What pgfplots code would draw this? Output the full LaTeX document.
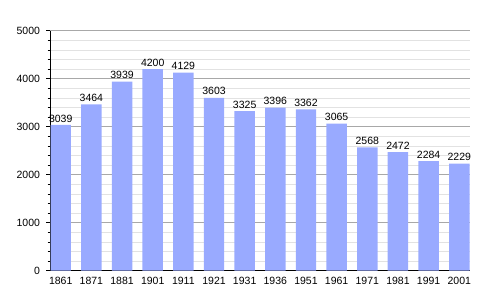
\documentclass[border=0pt]{standalone}
\usepackage{pgfplots}
\pgfplotsset{compat=1.18}
\usepackage{fontspec}
\setmainfont{Liberation Sans}
\definecolor{barblue}{HTML}{99AAFF}
\definecolor{majgrid}{HTML}{A8A8A8}
\definecolor{mingrid}{HTML}{E2E2E2}
\begin{document}
\begin{tikzpicture}
\begin{axis}[
  name=ax,
  at={(0pt,0pt)}, anchor=south west,
  scale only axis,
  width=420pt, height=240pt,
  xmin=-0.35, xmax=13.35,
  ymin=0, ymax=5000,
  axis lines*=left,
  axis line style={black, line width=0.8pt},
  xtick=data,
  xticklabels={1861,1871,1881,1901,1911,1921,1931,1936,1951,1961,1971,1981,1991,2001},
  x tick style={draw=none},
  ytick={0,1000,...,5000},
  minor y tick num=4,
  ymajorgrids, yminorgrids,
  major grid style={majgrid, line width=0.6pt},
  minor grid style={mingrid, line width=0.6pt},
  tick align=outside,
  major tick length=4pt,
  minor tick length=2.5pt,
  y tick style={black, line width=0.6pt},
  /pgf/number format/assume math mode=true,
  yticklabel={\pgfmathprintnumber[fixed,1000 sep={}]{\tick}},
  tick label style={font=\fontsize{10.5}{12}\selectfont},
  yticklabel style={xshift=-2.5pt},
  xticklabel style={yshift=1pt},
  ybar, bar width=0.667,
  nodes near coords,
  every node near coord/.append style={font=\fontsize{10.5}{12}\selectfont, inner sep=2.5pt,
    /pgf/number format/.cd, fixed, 1000 sep={}},
  axis on top=false,
]
\addplot[fill=barblue, draw=none] coordinates {
(0,3039) (1,3464) (2,3939) (3,4200) (4,4129) (5,3603) (6,3325)
(7,3396) (8,3362) (9,3065) (10,2568) (11,2472) (12,2284) (13,2229)};
\end{axis}
\path ([shift={(-50pt,-29.3pt)}]ax.south west) rectangle ([shift={(30pt,30.7pt)}]ax.north east);
\end{tikzpicture}
\end{document}
